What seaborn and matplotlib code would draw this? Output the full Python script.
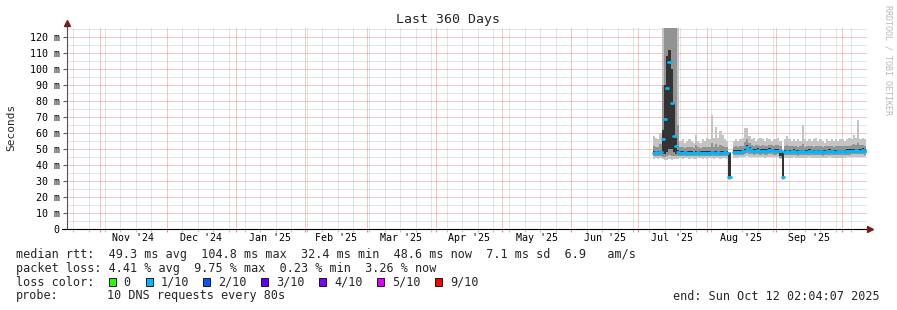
import numpy as np
import pandas as pd
import matplotlib
matplotlib.use("Agg")
import matplotlib.pyplot as plt
import matplotlib.dates as mdates
from matplotlib.ticker import MultipleLocator, FixedLocator, FuncFormatter, NullFormatter
from matplotlib.patches import Rectangle
import seaborn as sns
from datetime import datetime

nan = float("nan")

# ---------------- data (daily bins starting 2025-07-07 16:00) ----------------
median_ms = [
    47.6, 47.8, 47.5, 47.9, 56.0, 68.6, 88.4, 104.8, 78.6, 58.1, 51.8, 48.2,
    47.5, 47.4, 47.8, 47.3, 47.6, 47.5, 47.2, 47.6, 47.8, 47.4, 47.5, 47.7,
    47.3, 47.5, 47.8, 47.6, 47.4, 47.9, 47.5, 47.6, 47.8, 47.7, 32.4, nan,
    48.0, 48.2, 48.0, 48.3, 48.5, 49.0, 51.4, 50.2, 49.0, 48.8, 49.0, 49.2,
    48.9, 49.0, 48.7, 48.8, 49.3, 49.1, 48.9, 48.9, 49.0, 48.6, 32.6, 48.3,
    48.5, 48.2, 48.4, 48.6, 48.3, 48.1, 48.4, 48.5, 48.2, 48.3, 48.6, 48.4,
    48.2, 48.5, 48.3, 48.4, 48.1, 48.3, 48.5, 48.6, 48.4, 48.2, 48.3, 48.5,
    48.4, 48.5, 48.3, 48.6, 48.7, 48.9, 49.0, 49.1, 48.9, 49.0, 49.2, 48.8,
]
smoke_hi_outer = [
    58, 57, 56, 60, 130, 130, 130, 130, 130, 130, 130, 130,
    55, 56, 54, 55, 56, 55, 54, 59, 55, 54, 56, 55,
    57, 56, 71, 57, 64, 57, 61, 59, 56, 55, 48, nan,
    55, 56, 55, 56, 57, 63, 63, 58, 56, 57, 55, 56,
    57, 56, 55, 57, 56, 55, 56, 56, 57, 55, 49, 56,
    58, 56, 55, 56, 55, 56, 55, 65, 56, 55, 56, 55,
    56, 57, 55, 56, 55, 54, 56, 55, 56, 55, 56, 55,
    56, 56, 55, 56, 57, 56, 59, 57, 68, 56, 57, 56,
]
smoke_lo_outer = [
    44.0, 44.2, 44.0, 44.3, 43.5, 43.0, 43.0, 43.5, 43.0, 43.5, 44.0, 44.0,
    44.2, 44.0, 44.3, 44.1, 44.0, 44.2, 43.9, 44.0, 44.3, 44.1, 44.0, 44.2,
    44.0, 44.1, 44.3, 44.0, 44.2, 44.1, 44.0, 44.2, 44.3, 44.0, 30.5, nan,
    44.5, 44.6, 44.4, 44.7, 44.8, 45.0, 45.5, 45.2, 44.8, 44.7, 44.9, 45.0,
    44.8, 44.9, 44.6, 44.8, 45.0, 44.9, 44.8, 44.7, 44.9, 43.5, 30.8, 44.5,
    44.6, 44.4, 44.5, 44.7, 44.5, 44.3, 44.5, 44.6, 44.4, 44.5, 44.7, 44.5,
    44.4, 44.6, 44.5, 44.5, 44.3, 44.4, 44.6, 44.7, 44.5, 44.4, 44.5, 44.6,
    44.5, 44.6, 44.4, 44.7, 44.8, 44.9, 45.0, 45.1, 44.9, 45.0, 45.1, 44.8,
]
smoke_hi_mid = [
    52.0, 51.5, 51.0, 53.0, 90, 130, 130, 130, 130, 130, 130, 65,
    51.0, 51.2, 50.8, 51.0, 51.3, 51.0, 50.8, 52.5, 51.0, 50.9, 51.2, 51.0,
    51.3, 51.0, 54.0, 51.5, 53.0, 51.2, 52.5, 51.8, 51.2, 51.0, 47.8, nan,
    51.5, 51.8, 51.5, 51.9, 52.0, 54.5, 56.0, 53.5, 52.3, 52.0, 52.2, 52.4,
    52.1, 52.3, 51.9, 52.0, 52.5, 52.3, 52.1, 52.2, 52.3, 51.8, 48.5, 51.6,
    52.5, 51.6, 51.7, 51.9, 51.6, 51.4, 51.7, 53.0, 51.5, 51.6, 51.9, 51.7,
    51.5, 51.8, 51.6, 51.7, 51.4, 51.6, 51.8, 51.9, 51.7, 51.5, 51.6, 51.8,
    51.7, 51.8, 51.6, 51.9, 52.0, 52.2, 52.8, 52.4, 53.5, 52.3, 52.5, 52.1,
]
smoke_lo_mid = [
    45.5, 45.8, 45.5, 45.8, 45.0, 45.0, 45.5, 46.0, 45.5, 45.5, 45.5, 45.6,
    45.6, 45.5, 45.8, 45.4, 45.6, 45.6, 45.3, 45.6, 45.8, 45.5, 45.6, 45.7,
    45.4, 45.6, 45.8, 45.6, 45.5, 45.8, 45.6, 45.6, 45.8, 45.7, 31.0, nan,
    46.0, 46.2, 46.0, 46.3, 46.4, 46.6, 47.5, 47.0, 46.6, 46.4, 46.6, 46.8,
    46.5, 46.6, 46.3, 46.4, 46.8, 46.7, 46.5, 46.5, 46.6, 44.5, 31.3, 46.0,
    46.2, 45.9, 46.1, 46.3, 46.0, 45.8, 46.1, 46.2, 45.9, 46.0, 46.3, 46.1,
    45.9, 46.2, 46.0, 46.1, 45.8, 46.0, 46.2, 46.3, 46.1, 45.9, 46.0, 46.2,
    46.1, 46.2, 46.0, 46.3, 46.4, 46.6, 46.7, 46.8, 46.6, 46.7, 46.9, 46.5,
]
smoke_hi_inner = [
    48.6, 48.8, 48.5, 49.0, 62.0, 90.0, 108.0, 112.0, 100.0, 78.0, 57.0, 49.5,
    48.6, 48.5, 48.9, 48.4, 48.7, 48.6, 48.3, 48.8, 48.9, 48.5, 48.6, 48.8,
    48.4, 48.6, 49.0, 48.7, 48.6, 49.0, 48.7, 48.7, 48.9, 48.8, 47.5, nan,
    49.1, 49.3, 49.1, 49.4, 49.6, 50.2, 52.5, 51.3, 50.1, 49.9, 50.1, 50.3,
    50.0, 50.1, 49.8, 49.9, 50.4, 50.2, 50.0, 50.0, 50.1, 49.6, 48.0, 49.4,
    49.6, 49.3, 49.5, 49.7, 49.4, 49.2, 49.5, 49.6, 49.3, 49.4, 49.7, 49.5,
    49.3, 49.6, 49.4, 49.5, 49.2, 49.4, 49.6, 49.7, 49.5, 49.3, 49.4, 49.6,
    49.5, 49.6, 49.4, 49.7, 49.8, 50.0, 50.1, 50.2, 50.0, 50.1, 50.3, 49.9,
]
smoke_lo_inner = [
    46.6, 46.8, 46.5, 46.9, 47.0, 47.0, 48.0, 50.0, 50.0, 48.0, 47.0, 47.1,
    46.5, 46.4, 46.8, 46.3, 46.6, 46.5, 46.2, 46.6, 46.8, 46.4, 46.5, 46.7,
    46.3, 46.5, 46.8, 46.6, 46.4, 46.9, 46.5, 46.6, 46.8, 46.7, 31.5, nan,
    47.0, 47.2, 47.0, 47.3, 47.5, 48.0, 50.0, 48.8, 48.0, 47.8, 48.0, 48.2,
    47.9, 48.0, 47.7, 47.8, 48.3, 48.1, 47.9, 47.9, 48.0, 45.5, 31.8, 47.3,
    47.5, 47.2, 47.4, 47.6, 47.3, 47.1, 47.4, 47.5, 47.2, 47.3, 47.6, 47.4,
    47.2, 47.5, 47.3, 47.4, 47.1, 47.3, 47.5, 47.6, 47.4, 47.2, 47.3, 47.5,
    47.4, 47.5, 47.3, 47.6, 47.7, 47.9, 48.0, 48.1, 47.9, 48.0, 48.2, 47.8,
]
month_labels = ["Nov '24", "Dec '24", "Jan '25", "Feb '25", "Mar '25", "Apr '25",
                "May '25", "Jun '25", "Jul '25", "Aug '25", "Sep '25"]
loss_labels = ["0", "1/10", "2/10", "3/10", "4/10", "5/10", "9/10"]
loss_colors = ["#26ff00", "#00b8ff", "#0059ff", "#5e00ff", "#7e00ff", "#dd00ff", "#ff0000"]
stats_line1 = "median rtt:  49.3 ms avg  104.8 ms max  32.4 ms min  48.6 ms now  7.1 ms sd  6.9   am/s"
stats_line2 = "packet loss: 4.41 % avg  9.75 % max  0.23 % min  3.26 % now"
probe_text = "10 DNS requests every 80s"
end_text = "end: Sun Oct 12 02:04:07 2025"
title = "Last 360 Days"

# ---------------- figure ----------------
sns.set_style("white")
plt.rcParams["font.family"] = ["DejaVu Sans Mono", "DejaVu Sans"]

W, H = 897, 310
fig = plt.figure(figsize=(W / 100, H / 100), dpi=100)
fig.patch.set_facecolor("white")


def fx(px):
    return px / W


def fy(py):
    return 1 - py / H


ax = fig.add_axes([fx(67), fy(228.7), 800 / W, 201 / H])
ax.set_facecolor("white")

start = datetime(2024, 10, 17, 2, 4, 7)
end = datetime(2025, 10, 12, 2, 4, 7)
t0 = mdates.date2num(datetime(2025, 7, 7, 16, 0))
n = len(median_ms)
left = t0 + np.arange(n)

layers = [
    (smoke_lo_outer, smoke_hi_outer, "#c4c4c4"),
    (smoke_lo_mid, smoke_hi_mid, "#939393"),
    (smoke_lo_inner, smoke_hi_inner, "#333333"),
]
for lo, hi, col in layers:
    lo = np.asarray(lo, float)
    hi = np.asarray(hi, float)
    ok = ~np.isnan(lo)
    ax.bar(left[ok], hi[ok] - lo[ok], bottom=lo[ok], width=1.0, align="edge",
           color=col, linewidth=0, antialiased=False, zorder=2)

med = np.asarray(median_ms, float)
rows = []
for k in range(n):
    if not np.isnan(med[k]):
        rows.append((left[k], med[k], k))
        rows.append((left[k] + 1.0, med[k], k))
df = pd.DataFrame(rows, columns=["t", "ms", "seg"])
sns.lineplot(data=df, x="t", y="ms", units="seg", estimator=None, color="#00b8ff",
             lw=2.0, ax=ax, legend=False, zorder=4)
ax.set_xlabel("")
ax.set_ylabel("")

ax.set_xlim(mdates.date2num(start), mdates.date2num(end))
ax.set_ylim(0, 126)

ax.xaxis.set_major_locator(mdates.MonthLocator())
ax.xaxis.set_minor_locator(mdates.WeekdayLocator(byweekday=mdates.SU))
ax.xaxis.set_major_formatter(NullFormatter())
ax.xaxis.set_minor_formatter(NullFormatter())
ax.yaxis.set_major_locator(MultipleLocator(10))
ax.yaxis.set_minor_locator(FixedLocator(np.arange(5, 126, 10)))
ax.yaxis.set_major_formatter(FuncFormatter(lambda v, p: "0" if v == 0 else "%d m" % v))

ax.set_axisbelow(True)
dots = (0, (1.0, 1.0))
ax.grid(which="minor", axis="both", color="#cbcbcb", lw=0.72, ls=dots)
ax.grid(which="major", axis="both", color="#f08a8a", lw=0.72, ls=dots)

ax.tick_params(axis="y", which="major", length=3, width=0.8, color="#606060",
               pad=2.2, labelsize=7.2, labelcolor="#000000", direction="out", left=True)
ax.tick_params(axis="y", which="minor", length=0)
ax.tick_params(axis="x", which="major", length=2, width=0.8, color="#f08080",
               direction="out", bottom=True)
ax.tick_params(axis="x", which="minor", length=2, width=0.8, color="#c0c0c0",
               direction="out", bottom=True)

for s in ax.spines.values():
    s.set_visible(False)

# axis lines with arrows
ax.plot([0, 0], [0, 1.025], transform=ax.transAxes, color="#505050", lw=0.8,
        clip_on=False, zorder=6)
ax.plot([-0.006, 1.004], [0, 0], transform=ax.transAxes, color="black", lw=0.8,
        clip_on=False, zorder=6)
ax.plot([0], [1.025], marker="^", ms=4, color="#7a1c1c", transform=ax.transAxes,
        clip_on=False, zorder=7)
ax.plot([1.004], [0], marker=">", ms=4, color="#7a1c1c", transform=ax.transAxes,
        clip_on=False, zorder=7)

# month labels centred in each month
for i, lab in enumerate(month_labels):
    ms = datetime(2024, 11 + i, 1) if 11 + i <= 12 else datetime(2025, i - 1, 1)
    me = datetime(ms.year + (ms.month == 12), ms.month % 12 + 1, 1)
    mid = mdates.date2num(ms) + (mdates.date2num(me) - mdates.date2num(ms)) / 2
    ax.annotate(lab, xy=(mid, 0), xycoords=("data", "axes fraction"),
                xytext=(0, -6.6), textcoords="offset points",
                ha="center", va="center", fontsize=7.2, color="#000000")

# texts
fig.text(fx(448), fy(19), title, ha="center", va="center", fontsize=9.5)
fig.text(fx(11), fy(127), "Seconds", rotation=90, ha="center", va="center", fontsize=8)
fig.text(fx(888), fy(5), "RRDTOOL / TOBI OETIKER", rotation=-90, ha="center", va="top",
         fontsize=6.0, color="#b8b8b8")

fs = 8.5
fig.text(fx(16), fy(254.3), stats_line1, ha="left", va="center", fontsize=fs)
fig.text(fx(16), fy(268.3), stats_line2, ha="left", va="center", fontsize=fs)
fig.text(fx(16), fy(282), "loss color:", ha="left", va="center", fontsize=fs)
sq_x = [108.7, 145.7, 203.3, 261.3, 319.0, 377.0, 435.0]
lab_x = [123.3, 160.7, 218.3, 276.0, 334.0, 391.7, 450.0]
for sx, lx, lab, col in zip(sq_x, lab_x, loss_labels, loss_colors):
    fig.add_artist(Rectangle((fx(sx), fy(286.3)), 7 / W, 8 / H, transform=fig.transFigure,
                             facecolor=col, edgecolor="black", lw=0.6))
    fig.text(fx(lx), fy(282), lab, ha="left", va="center", fontsize=fs)
fig.text(fx(16), fy(296), "probe:", ha="left", va="center", fontsize=fs)
fig.text(fx(107.3), fy(296), probe_text, ha="left", va="center", fontsize=fs)
fig.text(fx(880), fy(296), end_text, ha="right", va="center", fontsize=fs)

fig.savefig("out.png", dpi=100, facecolor="white")
